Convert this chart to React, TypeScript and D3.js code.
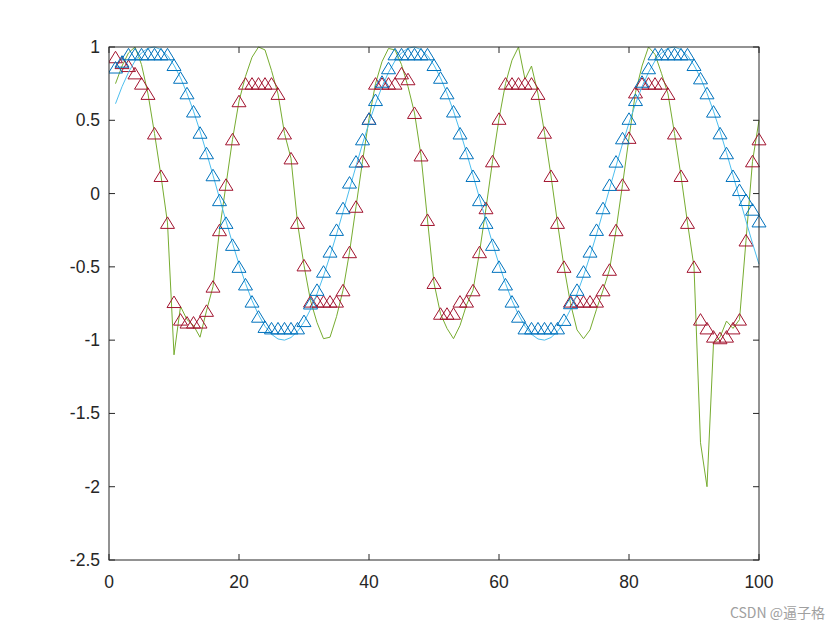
import React from "react";
import * as d3 from "d3";

const W = 840;
const H = 630;

// sample index 1..100
const N = 100;

// cyan smooth sinusoid (line)
const cyan = [
  0.613, 0.729, 0.827, 0.905, 0.96, 0.992, 1.0, 0.982, 0.941, 0.876,
  0.79, 0.684, 0.562, 0.426, 0.279, 0.125, -0.031, -0.187, -0.339, -0.482,
  -0.613, -0.729, -0.827, -0.905, -0.96, -0.992, -1.0, -0.982, -0.941, -0.876,
  -0.79, -0.684, -0.562, -0.426, -0.279, -0.125, 0.031, 0.187, 0.339, 0.482,
  0.613, 0.729, 0.827, 0.905, 0.96, 0.992, 1.0, 0.982, 0.941, 0.876,
  0.79, 0.684, 0.562, 0.426, 0.279, 0.125, -0.031, -0.187, -0.339, -0.482,
  -0.613, -0.729, -0.827, -0.905, -0.96, -0.992, -1.0, -0.982, -0.941, -0.876,
  -0.79, -0.684, -0.562, -0.426, -0.279, -0.125, 0.031, 0.187, 0.339, 0.482,
  0.613, 0.729, 0.827, 0.905, 0.96, 0.992, 1.0, 0.982, 0.941, 0.876,
  0.79, 0.684, 0.562, 0.426, 0.279, 0.125, -0.031, -0.187, -0.339, -0.482,
];

// blue triangles
const blueTri = [
  0.86, 0.9, 0.95, 0.95, 0.95, 0.95, 0.95, 0.95, 0.95, 0.877,
  0.79, 0.684, 0.56, 0.415, 0.275, 0.125, -0.045, -0.2, -0.35, -0.5,
  -0.62, -0.737, -0.84, -0.91, -0.92, -0.92, -0.92, -0.92, -0.92, -0.87,
  -0.75, -0.657, -0.533, -0.396, -0.248, -0.1, 0.075, 0.218, 0.37, 0.51,
  0.638, 0.763, 0.855, 0.95, 0.95, 0.95, 0.95, 0.95, 0.95, 0.877,
  0.79, 0.684, 0.56, 0.41, 0.275, 0.12, -0.045, -0.2, -0.35, -0.5,
  -0.62, -0.737, -0.84, -0.92, -0.92, -0.92, -0.92, -0.92, -0.92, -0.862,
  -0.748, -0.657, -0.533, -0.396, -0.248, -0.1, 0.059, 0.218, 0.377, 0.51,
  0.638, 0.763, 0.855, 0.95, 0.95, 0.95, 0.95, 0.95, 0.95, 0.877,
  0.786, 0.684, 0.559, 0.411, 0.275, 0.12, 0.024, -0.044, -0.11, -0.19,
];

// green noisy line
const green = [
  0.75, 0.87, 0.96, 1.0, 0.88, 0.68, 0.41, 0.12, -0.2, -1.1,
  -0.77, -0.86, -0.9, -0.98, -0.8, -0.635, -0.25, 0.06, 0.37, 0.63,
  0.8, 0.93, 1.0, 0.98, 0.84, 0.68, 0.41, 0.24, -0.2, -0.49,
  -0.73, -0.88, -0.99, -0.98, -0.84, -0.66, -0.4, -0.09, 0.22, 0.51,
  0.75, 0.9, 0.99, 0.98, 0.88, 0.73, 0.55, 0.26, -0.18, -0.61,
  -0.82, -0.92, -0.99, -0.9, -0.76, -0.66, -0.4, -0.1, 0.22, 0.51,
  0.75, 0.91, 1.0, 0.78, 0.87, 0.68, 0.415, 0.12, -0.2, -0.5,
  -0.75, -0.93, -0.99, -0.93, -0.79, -0.66, -0.52, -0.25, 0.06, 0.38,
  0.69, 0.87, 1.0, 0.95, 0.82, 0.68, 0.41, 0.12, -0.2, -0.5,
  -1.7, -2.0, -1.02, -0.98, -0.87, -0.92, -0.86, -0.32, 0.22, 0.5,
];

// red triangles
const redTri = [
  0.93, 0.89, 0.87, 0.82, 0.75, 0.68, 0.41, 0.12, -0.2, -0.74,
  -0.86, -0.88, -0.88, -0.88, -0.8, -0.635, -0.25, 0.06, 0.37, 0.63,
  0.75, 0.75, 0.75, 0.75, 0.75, 0.68, 0.41, 0.24, -0.2, -0.49,
  -0.737, -0.737, -0.737, -0.737, -0.737, -0.66, -0.4, -0.09, 0.22, 0.51,
  0.75, 0.75, 0.75, 0.75, 0.82, 0.78, 0.55, 0.26, -0.18, -0.61,
  -0.82, -0.82, -0.82, -0.737, -0.737, -0.66, -0.4, -0.1, 0.22, 0.51,
  0.75, 0.75, 0.75, 0.75, 0.75, 0.68, 0.415, 0.12, -0.2, -0.5,
  -0.737, -0.737, -0.737, -0.737, -0.737, -0.66, -0.52, -0.25, 0.06, 0.38,
  0.69, 0.75, 0.75, 0.75, 0.75, 0.68, 0.41, 0.12, -0.2, -0.5,
  -0.86, -0.92, -0.976, -0.987, -0.976, -0.92, -0.86, -0.32, 0.22, 0.37,
];

const xTicks = [0, 20, 40, 60, 80, 100];
const yTicks = [-2.5, -2, -1.5, -1, -0.5, 0, 0.5, 1];

const COLORS = {
  cyan: "#4DBEEE",
  blue: "#0072BD",
  green: "#77AC30",
  red: "#A2142F",
  axis: "#262626",
};

const L = 109, R = 759, T = 47, B = 560;

export default function App() {
  const xs = d3.range(1, N + 1);
  const x = d3.scaleLinear().domain([0, 100]).range([L, R]);
  const y = d3.scaleLinear().domain([-2.5, 1]).range([B, T]);
  const line = d3
    .line<number>()
    .x((_, i) => x(xs[i]))
    .y((d) => y(d));

  const tri = (cx: number, cy: number) =>
    `M${cx},${cy - 6}L${cx + 7},${cy + 5.5}L${cx - 7},${cy + 5.5}Z`;

  const font = "Arial, 'Liberation Sans', Helvetica, sans-serif";
  const tickLen = 6;

  return (
    <div style={{ position: "fixed", left: 0, top: 0, background: "#fff" }}>
      <svg width={W} height={H} style={{ display: "block" }}>
        <rect x={0} y={0} width={W} height={H} fill="#fff" />
        <defs>
          <clipPath id="plot">
            <rect x={L} y={T - 8} width={R - L + 8} height={B - T + 8} />
          </clipPath>
        </defs>
        <g clipPath="url(#plot)">
          <path d={line(green) || ""} fill="none" stroke={COLORS.green} strokeWidth={1} />
          {redTri.map((v, i) => (
            <path key={"r" + i} d={tri(x(xs[i]), y(v))} fill="none" stroke={COLORS.red} strokeWidth={1} />
          ))}
          <path d={line(cyan) || ""} fill="none" stroke={COLORS.cyan} strokeWidth={1} />
          {blueTri.map((v, i) => (
            <path key={"b" + i} d={tri(x(xs[i]), y(v))} fill="none" stroke={COLORS.blue} strokeWidth={1} />
          ))}
        </g>
        {/* axes box */}
        <rect x={L} y={T} width={R - L} height={B - T} fill="none" stroke={COLORS.axis} strokeWidth={1} />
        {xTicks.map((t) => (
          <g key={"xt" + t}>
            <line x1={x(t)} x2={x(t)} y1={B} y2={B - tickLen} stroke={COLORS.axis} />
            <line x1={x(t)} x2={x(t)} y1={T} y2={T + tickLen} stroke={COLORS.axis} />
            <text x={x(t)} y={B + 28} textAnchor="middle" fontFamily={font} fontSize={17.5} fill={COLORS.axis}>
              {t}
            </text>
          </g>
        ))}
        {yTicks.map((t) => (
          <g key={"yt" + t}>
            <line x1={L} x2={L + tickLen} y1={y(t)} y2={y(t)} stroke={COLORS.axis} />
            <line x1={R} x2={R - tickLen} y1={y(t)} y2={y(t)} stroke={COLORS.axis} />
            <text x={L - 9} y={y(t) + 6} textAnchor="end" fontFamily={font} fontSize={17.5} fill={COLORS.axis}>
              {t}
            </text>
          </g>
        ))}
        <text x={825} y={618} textAnchor="end" fontFamily="'Noto Sans CJK SC', sans-serif" fontSize={14} fill="#a0a0a0">
          CSDN @逼子格
        </text>
      </svg>
    </div>
  );
}
